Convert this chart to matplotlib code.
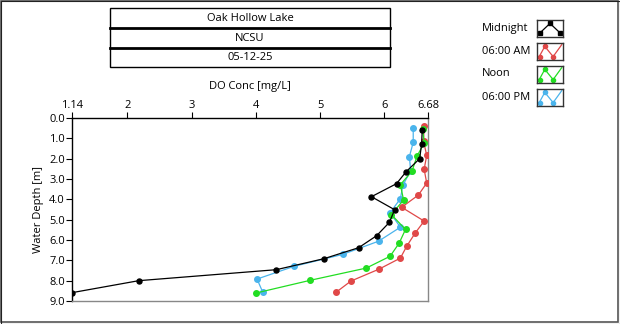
import numpy as np
import matplotlib
matplotlib.use("Agg")
import matplotlib.pyplot as plt
from matplotlib.patches import Rectangle

# dissolved oxygen profiles, depth [m] vs DO [mg/L]
midnight_depth = [0.61, 1.30, 2.00, 2.64, 3.23, 3.87, 4.51, 5.13, 5.79, 6.38, 6.92, 7.46, 8.00, 8.59]
midnight_do = [6.59, 6.58, 6.55, 6.34, 6.19, 5.80, 6.16, 6.08, 5.88, 5.60, 5.06, 4.32, 2.18, 1.14]

am6_depth = [0.39, 1.13, 1.84, 2.52, 3.20, 3.79, 4.39, 5.07, 5.66, 6.30, 6.89, 7.43, 8.02, 8.57]
am6_do = [6.62, 6.61, 6.66, 6.62, 6.66, 6.53, 6.27, 6.62, 6.48, 6.35, 6.25, 5.92, 5.48, 5.25]

noon_depth = [0.55, 1.23, 1.87, 2.62, 3.28, 4.03, 4.75, 5.48, 6.16, 6.80, 7.38, 7.98, 8.61]
noon_do = [6.60, 6.62, 6.51, 6.43, 6.25, 6.30, 6.11, 6.33, 6.23, 6.09, 5.72, 4.85, 4.00]

pm6_depth = [0.48, 1.20, 1.90, 2.60, 3.30, 3.97, 4.66, 5.37, 6.06, 6.71, 7.29, 7.92, 8.58]
pm6_do = [6.45, 6.45, 6.39, 6.41, 6.29, 6.25, 6.09, 6.25, 5.91, 5.35, 4.60, 4.02, 4.11]

x_ticks = [1.14, 2, 3, 4, 5, 6, 6.68]
x_ticklabels = ["1.14", "2", "3", "4", "5", "6", "6.68"]
y_ticks = [0, 1, 2, 3, 4, 5, 6, 7, 8, 9]

header_rows = ["Oak Hollow Lake", "NCSU", "05-12-25"]
series_names = ["Midnight", "06:00 AM", "Noon", "06:00 PM"]
series_colors = ["black", "#e04848", "#22dd22", "#4ab4ec"]

plt.rcParams['font.family'] = ['Open Sans', 'DejaVu Sans']

W, H = 620, 324
fig = plt.figure(figsize=(W / 100, H / 100), dpi=100)

def fx(px):
    return px / W

def fy(py):
    return 1 - py / H

# panel frame
fig.patches.append(Rectangle((fx(1), fy(322)), fx(617), 321 / H, transform=fig.transFigure,
                             fill=False, edgecolor="#555555", lw=1.2))
fig.patches.append(Rectangle((fx(0.5), fy(323.5)), fx(619), 323 / H, transform=fig.transFigure,
                             fill=False, edgecolor="#222222", lw=0.8))

# header table
tx0, tx1 = 110, 390
ty = [8, 28, 48, 67]
fig.patches.append(Rectangle((fx(tx0), fy(ty[3])), fx(tx1 - tx0), (ty[3] - ty[0]) / H,
                             transform=fig.transFigure, fill=False, edgecolor="black", lw=1.0))
for yy in ty[1:3]:
    fig.add_artist(plt.Line2D([fx(tx0), fx(tx1)], [fy(yy), fy(yy)], color="black", lw=2.0))
for i, txt in enumerate(header_rows):
    fig.text(fx(250), fy((ty[i] + ty[i + 1]) / 2 + 0.5), txt, ha="center", va="center", fontsize=8)

# main plot
ax = fig.add_axes([fx(72), fy(301), fx(428 - 72), 183 / H])
ax.plot(midnight_do, midnight_depth, '-o', color=series_colors[0], lw=0.9, ms=3.6, zorder=5)
ax.plot(am6_do, am6_depth, '-o', color=series_colors[1], lw=0.9, ms=4, zorder=3)
ax.plot(noon_do, noon_depth, '-o', color=series_colors[2], lw=0.9, ms=4, zorder=4)
ax.plot(pm6_do, pm6_depth, '-o', color=series_colors[3], lw=0.9, ms=4, zorder=3.5)

ax.set_xlim(1.14, 6.68)
ax.set_ylim(9, 0)
ax.xaxis.tick_top()
ax.xaxis.set_label_position('top')
ax.set_xticks(x_ticks)
ax.set_xticklabels(x_ticklabels)
ax.set_yticks(y_ticks)
ax.set_yticklabels(["%.1f" % v for v in y_ticks])
ax.tick_params(axis='both', labelsize=8, length=4, width=0.8, pad=1, direction='out')
ax.set_xlabel("DO Conc [mg/L]", fontsize=8, labelpad=8)
ax.set_ylabel("Water Depth [m]", fontsize=8, labelpad=4)
ax.spines['top'].set_color('black')
ax.spines['left'].set_color('black')
ax.spines['bottom'].set_color('#888888')
ax.spines['right'].set_color('#888888')
for s in ax.spines.values():
    s.set_linewidth(1.0)

# legend entries with small swatch boxes
rows_y = [28, 51, 74, 97]
for name, col, yy in zip(series_names, series_colors, rows_y):
    fig.text(fx(482), fy(yy), name, ha="left", va="center", fontsize=8)
    sw = fig.add_axes([fx(537), fy(yy + 9), fx(26), 17 / H])
    if name == "Midnight":
        sx, sy = [0.12, 0.5, 0.88], [0.25, 0.8, 0.25]
        sw.plot(sx, sy, '-', color=col, lw=0.9)
        sw.plot(sx, sy, 's', color=col, ms=3)
    else:
        sx, sy = [0.05, 0.3, 0.62, 0.95], [0.1, 0.8, 0.2, 0.9]
        sw.plot(sx, sy, '-', color=col, lw=0.9)
        sw.plot([0.3, 0.62, 0.12], [0.8, 0.2, 0.2], 'o', color=col, ms=3)
    sw.set_xlim(0, 1)
    sw.set_ylim(0, 1)
    sw.set_xticks([])
    sw.set_yticks([])
    for s in sw.spines.values():
        s.set_linewidth(1.0)
        s.set_color('#333333')

fig.savefig("out.png", dpi=100)
